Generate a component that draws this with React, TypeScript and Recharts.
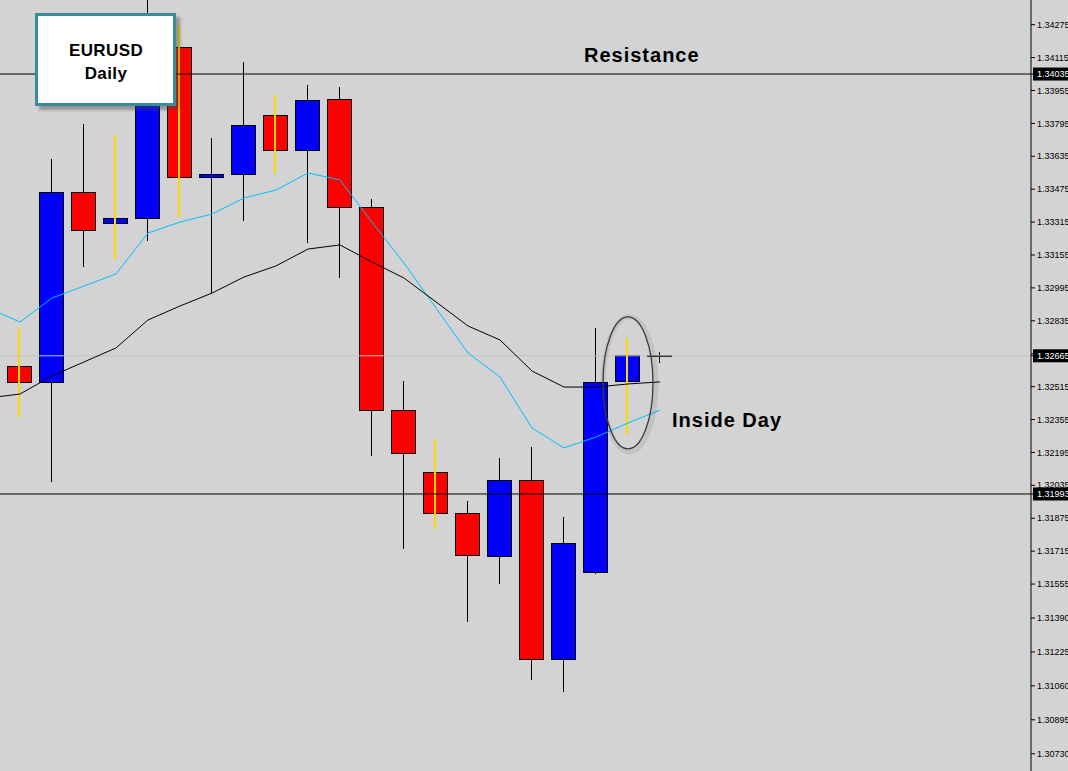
import React from "react";
import { ComposedChart, Bar, Line, XAxis, YAxis, ReferenceLine, ReferenceDot } from "recharts";

// EURUSD daily candles, oldest first (the first one is cut off by the left edge)
const bars = [0, 1, 2, 3, 4, 5, 6, 7, 8, 9, 10, 11, 12, 13, 14, 15, 16, 17, 18, 19, 20, 21];
const opens = [1.32635, 1.32615, 1.32537, 1.33461, 1.33311, 1.33335, 1.34166, 1.33534, 1.33549, 1.33836, 1.33666,
  1.33913, 1.33388, 1.32401, 1.321, 1.31901, 1.31692, 1.32061, 1.31191, 1.31614, 1.32542, 1.32665];
const highs = [1.33033, 1.328, 1.33622, 1.33792, 1.33738, 1.34405, 1.34273, 1.33724, 1.34093, 1.33933, 1.33982,
  1.33972, 1.33427, 1.32542, 1.3226, 1.31959, 1.32168, 1.32222, 1.31881, 1.328, 1.32751, 1.32683];
const lows = [1.32596, 1.32367, 1.32051, 1.33097, 1.33135, 1.33223, 1.3334, 1.3297, 1.3332, 1.33549, 1.33213,
  1.33043, 1.32178, 1.31726, 1.31823, 1.31371, 1.31555, 1.31089, 1.3103, 1.31604, 1.3228, 1.3263];
const closes = [1.32995, 1.32537, 1.33461, 1.33277, 1.33335, 1.34152, 1.33534, 1.33549, 1.33787, 1.33666, 1.33909,
  1.33388, 1.32401, 1.32192, 1.31901, 1.31696, 1.32061, 1.31191, 1.31755, 1.32537, 1.32669, 1.32665];
// candles whose wick is painted yellow
const goldWick = [false, true, false, false, true, false, true, false, false, true, false,
  false, false, false, true, false, false, false, false, false, true, false];

// moving averages
const maFast = [1.32897, 1.32829, 1.32946, 1.33004, 1.33063, 1.33262, 1.33315, 1.33354, 1.33432, 1.33471, 1.33554,
  1.3352, 1.33315, 1.33116, 1.32897, 1.32679, 1.32562, 1.32314, 1.32217, 1.3227, 1.32338, 1.32401];
const maSlow = [1.3246, 1.32479, 1.32567, 1.32635, 1.32703, 1.32839, 1.32907, 1.3297, 1.33048, 1.33102, 1.33184,
  1.33204, 1.33121, 1.33043, 1.32927, 1.3281, 1.32742, 1.32591, 1.32513, 1.32513, 1.32528, 1.32538];

const priceTicks = [1.34275, 1.34115, 1.33955, 1.33795, 1.33635, 1.33475, 1.33315, 1.33155, 1.32995, 1.32835,
  1.32675, 1.32515, 1.32355, 1.32195, 1.32035, 1.31875, 1.31715, 1.31555, 1.3139, 1.31225, 1.3106, 1.30895, 1.3073];
const resistance = 1.34035;
const support = 1.31993;
const lastPrice = 1.32665;
const flagPrices = [resistance, lastPrice, support];

const data = bars.map((i, k) => ({
  i,
  open: opens[k],
  high: highs[k],
  low: lows[k],
  close: closes[k],
  gold: goldWick[k],
  fast: maFast[k],
  slow: maSlow[k],
}));

const Candle = (props: any) => {
  const { x, y, width, height, payload } = props;
  if (x == null || y == null) return null;
  const top = Math.min(y, y + height);
  const bot = Math.max(y, y + height);
  const { open, close, high, low, gold } = payload;
  const span = high - low || 1;
  const py = (v: number) => top + ((high - v) / span) * (bot - top);
  const cx = Math.floor(x + width / 2) + 0.5;
  const left = Math.round(x) + 0.5;
  const w = Math.round(width) - 1;
  const bTop = py(Math.max(open, close));
  const bBot = py(Math.min(open, close));
  const doji = bBot - bTop < 1;
  const fill = close > open ? "#0000FF" : "#FF0000";
  return (
    <g>
      {!gold && <line x1={cx} x2={cx} y1={top} y2={bot} stroke="#000" strokeWidth={1} />}
      {doji ? (
        <line x1={left - 0.5} x2={left + w + 0.5} y1={Math.round(bTop)} y2={Math.round(bTop)} stroke="#000" strokeWidth={2} />
      ) : (
        <rect x={left} y={Math.round(bTop) + 0.5} width={w} height={Math.round(bBot) - Math.round(bTop)} fill={fill} stroke="#000" strokeWidth={1} />
      )}
      {gold && <line x1={cx - 0.5} x2={cx - 0.5} y1={top} y2={bot} stroke="#FFD700" strokeWidth={2} />}
    </g>
  );
};

const PriceTick = (props: any) => {
  const { x, y, payload } = props;
  const v = payload.value;
  const label = Number(v).toFixed(5);
  if (flagPrices.includes(v)) {
    return (
      <g>
        <rect x={x - 4} y={y - 6.5} width={40} height={13} fill="#000" />
        <text x={x} y={y} dy="0.35em" fill="#fff" fontSize={9} fontFamily="Liberation Sans" textAnchor="start">
          {label}
        </text>
      </g>
    );
  }
  return (
    <text x={x} y={y} dy="0.35em" fill="#000" fontSize={9} fontFamily="Liberation Sans" textAnchor="start">
      {label}
    </text>
  );
};

const Oval = (props: any) => {
  const { cx, cy } = props;
  return (
    <g>
      <ellipse cx={cx + 1.5} cy={cy + 1.5} rx={26.5} ry={67.5} fill="none" stroke="rgba(0,0,0,0.08)" strokeWidth={5} />
      <ellipse cx={cx} cy={cy} rx={25} ry={66} fill="none" stroke="#3a3a3a" strokeWidth={1.3} />
    </g>
  );
};

export default function App() {
  return (
    <div
      style={{
        position: "absolute",
        left: 0,
        top: 0,
        width: 1068,
        height: 771,
        background: "#D3D3D3",
        overflow: "hidden",
        fontFamily: "Liberation Sans, Arial, sans-serif",
      }}
    >
      <ComposedChart width={1068} height={771} data={data} margin={{ top: 0, right: 0, bottom: 0, left: 0 }}>
        <XAxis dataKey="i" type="number" domain={[0.375, 32.594]} allowDataOverflow hide />
        <YAxis
          orientation="right"
          type="number"
          domain={[1.30646, 1.34395]}
          allowDataOverflow
          ticks={[...priceTicks, ...flagPrices]}
          interval={0}
          width={37}
          tickSize={4}
          tickMargin={2}
          axisLine={{ stroke: "#000" }}
          tickLine={{ stroke: "#000" }}
          tick={<PriceTick />}
        />
        <ReferenceLine y={lastPrice} stroke="#C0C0C0" strokeWidth={1} />
        <ReferenceLine y={resistance} stroke="#000" strokeWidth={1} />
        <ReferenceLine y={support} stroke="#000" strokeWidth={1} />
        <Bar dataKey={(d: any) => [d.low, d.high]} barSize={25} shape={<Candle />} isAnimationActive={false} />
        <Line type="linear" dataKey="fast" stroke="#00BFFF" strokeWidth={1} dot={false} isAnimationActive={false} />
        <Line type="linear" dataKey="slow" stroke="#000" strokeWidth={1} dot={false} isAnimationActive={false} />
        <ReferenceDot x={20} y={1.32533} r={1} shape={<Oval />} />
      </ComposedChart>

      <svg width={1068} height={771} style={{ position: "absolute", left: 0, top: 0, pointerEvents: "none" }}>
        <text x={584} y={62} fontSize={20} fontWeight="bold" letterSpacing={1} fill="#000" fontFamily="Liberation Sans">
          Resistance
        </text>
        <text x={672} y={427} fontSize={20} fontWeight="bold" letterSpacing={1} fill="#000" fontFamily="Liberation Sans">
          Inside Day
        </text>
      </svg>

      <div
        style={{
          position: "absolute",
          left: 35,
          top: 13,
          width: 135,
          height: 87,
          background: "#fff",
          border: "3px solid #3a8a9a",
          boxShadow: "4px 4px 3px rgba(70,70,70,0.45)",
        }}
      >
        <svg width={135} height={87} style={{ display: "block" }}>
          <text x={68} y={40} textAnchor="middle" fontSize={17} fontWeight="bold" letterSpacing={0.4} fill="#000" fontFamily="Liberation Sans">
            EURUSD
          </text>
          <text x={68} y={63} textAnchor="middle" fontSize={17} fontWeight="bold" letterSpacing={0.4} fill="#000" fontFamily="Liberation Sans">
            Daily
          </text>
        </svg>
      </div>
    </div>
  );
}
